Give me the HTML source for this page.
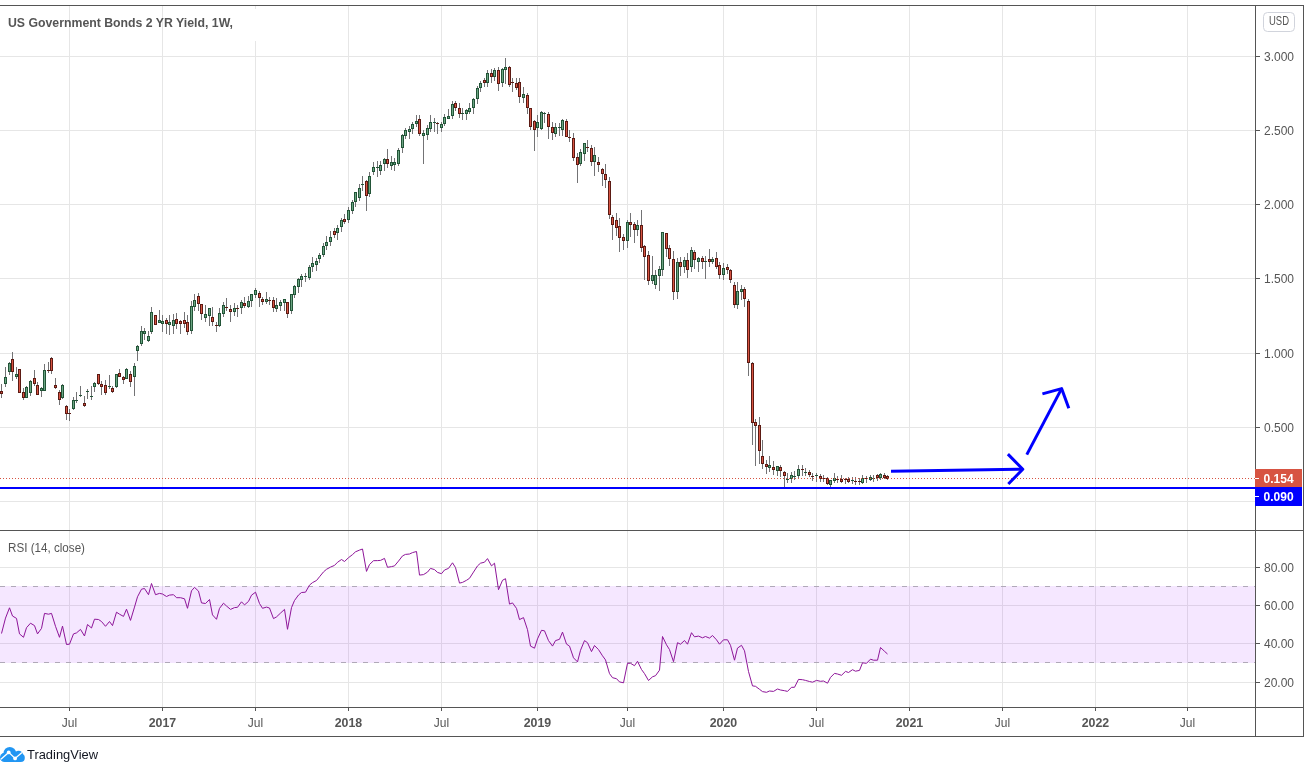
<!DOCTYPE html>
<html lang="en"><head><meta charset="utf-8"><title>US Government Bonds 2 YR Yield</title>
<style>html,body{margin:0;padding:0;background:#fff}body{width:1310px;height:773px;overflow:hidden;position:relative}svg{position:absolute;left:0;top:0;display:block;will-change:transform}text{font-family:'Liberation Sans', Arial, sans-serif}</style>
</head><body>
<svg width="1310" height="773" viewBox="0 0 1310 773">
<rect width="1310" height="773" fill="#ffffff"/>
<g shape-rendering="crispEdges" fill="#e6e6e6">
<rect x="69" y="6" width="1" height="524"/>
<rect x="69" y="531" width="1" height="176"/>
<rect x="162" y="6" width="1" height="524"/>
<rect x="162" y="531" width="1" height="176"/>
<rect x="255" y="6" width="1" height="524"/>
<rect x="255" y="531" width="1" height="176"/>
<rect x="348" y="6" width="1" height="524"/>
<rect x="348" y="531" width="1" height="176"/>
<rect x="441" y="6" width="1" height="524"/>
<rect x="441" y="531" width="1" height="176"/>
<rect x="537" y="6" width="1" height="524"/>
<rect x="537" y="531" width="1" height="176"/>
<rect x="627" y="6" width="1" height="524"/>
<rect x="627" y="531" width="1" height="176"/>
<rect x="723" y="6" width="1" height="524"/>
<rect x="723" y="531" width="1" height="176"/>
<rect x="816" y="6" width="1" height="524"/>
<rect x="816" y="531" width="1" height="176"/>
<rect x="909" y="6" width="1" height="524"/>
<rect x="909" y="531" width="1" height="176"/>
<rect x="1002" y="6" width="1" height="524"/>
<rect x="1002" y="531" width="1" height="176"/>
<rect x="1095" y="6" width="1" height="524"/>
<rect x="1095" y="531" width="1" height="176"/>
<rect x="1187" y="6" width="1" height="524"/>
<rect x="1187" y="531" width="1" height="176"/>
<rect x="0" y="56" width="1255" height="1"/>
<rect x="0" y="130" width="1255" height="1"/>
<rect x="0" y="204" width="1255" height="1"/>
<rect x="0" y="278" width="1255" height="1"/>
<rect x="0" y="353" width="1255" height="1"/>
<rect x="0" y="427" width="1255" height="1"/>
<rect x="0" y="501" width="1255" height="1"/>
<rect x="0" y="567" width="1255" height="1"/>
<rect x="0" y="605" width="1255" height="1"/>
<rect x="0" y="643" width="1255" height="1"/>
<rect x="0" y="682" width="1255" height="1"/>
</g>
<rect x="236" y="9" width="21" height="32" fill="#ffffff" shape-rendering="crispEdges"/>
<rect x="0" y="586" width="1255" height="77" fill="#9915ff" fill-opacity="0.1" shape-rendering="crispEdges"/>
<g stroke="#b0a9b8" stroke-width="1" stroke-dasharray="5 6" shape-rendering="crispEdges">
<line x1="0" y1="586.5" x2="1255" y2="586.5"/>
<line x1="0" y1="662.5" x2="1255" y2="662.5"/>
</g>
<rect x="0" y="487" width="1255" height="2" fill="#0000ff" shape-rendering="crispEdges"/>
<g shape-rendering="crispEdges">
<path fill="#737375" d="M1 384h1v14h-1zM5 367h1v20h-1zM9 362h1v13h-1zM12 352h1v29h-1zM16 367h1v12h-1zM19 369h1v24h-1zM23 388h1v12h-1zM26 386h1v12h-1zM30 380h1v16h-1zM34 370h1v16h-1zM37 382h1v13h-1zM41 387h1v10h-1zM44 364h1v27h-1zM48 362h1v11h-1zM51 357h1v17h-1zM55 378h1v11h-1zM59 390h1v15h-1zM62 384h1v15h-1zM66 405h1v15h-1zM69 409h1v12h-1zM73 397h1v13h-1zM76 392h1v11h-1zM80 386h1v11h-1zM84 396h1v11h-1zM87 389h1v10h-1zM91 386h1v14h-1zM94 382h1v10h-1zM98 374h1v11h-1zM101 381h1v14h-1zM105 380h1v15h-1zM109 375h1v14h-1zM112 386h1v7h-1zM116 374h1v14h-1zM119 369h1v8h-1zM123 376h1v8h-1zM126 368h1v11h-1zM130 371h1v16h-1zM134 363h1v33h-1zM137 345h1v16h-1zM141 326h1v20h-1zM144 328h1v12h-1zM148 331h1v11h-1zM151 307h1v27h-1zM155 315h1v10h-1zM159 310h1v13h-1zM162 315h1v17h-1zM166 318h1v16h-1zM169 315h1v20h-1zM173 314h1v20h-1zM176 313h1v16h-1zM180 320h1v14h-1zM184 312h1v16h-1zM187 315h1v20h-1zM191 301h1v33h-1zM194 294h1v17h-1zM198 293h1v18h-1zM201 304h1v16h-1zM205 305h1v17h-1zM209 308h1v18h-1zM212 307h1v19h-1zM216 322h1v10h-1zM219 308h1v19h-1zM223 302h1v15h-1zM226 298h1v13h-1zM230 305h1v17h-1zM234 303h1v13h-1zM237 305h1v12h-1zM241 300h1v14h-1zM244 297h1v11h-1zM248 296h1v12h-1zM251 294h1v13h-1zM255 288h1v10h-1zM259 291h1v16h-1zM262 297h1v8h-1zM266 292h1v12h-1zM269 297h1v8h-1zM273 297h1v15h-1zM276 298h1v14h-1zM280 300h1v11h-1zM284 299h1v12h-1zM287 302h1v16h-1zM291 294h1v20h-1zM294 285h1v13h-1zM298 278h1v15h-1zM301 274h1v13h-1zM305 273h1v9h-1zM309 265h1v15h-1zM312 257h1v15h-1zM316 258h1v13h-1zM319 253h1v10h-1zM323 243h1v14h-1zM326 236h1v14h-1zM330 231h1v15h-1zM334 228h1v10h-1zM337 225h1v15h-1zM341 218h1v14h-1zM344 214h1v10h-1zM348 207h1v16h-1zM352 200h1v14h-1zM355 192h1v15h-1zM359 184h1v17h-1zM362 176h1v15h-1zM366 180h1v31h-1zM369 172h1v25h-1zM373 162h1v13h-1zM377 161h1v16h-1zM380 161h1v14h-1zM384 158h1v13h-1zM387 149h1v19h-1zM391 156h1v14h-1zM394 158h1v13h-1zM398 148h1v18h-1zM402 134h1v19h-1zM405 128h1v11h-1zM409 126h1v13h-1zM412 122h1v12h-1zM416 115h1v12h-1zM419 115h1v21h-1zM423 130h1v34h-1zM427 125h1v15h-1zM430 115h1v17h-1zM434 118h1v14h-1zM437 122h1v12h-1zM441 122h1v10h-1zM444 114h1v12h-1zM448 109h1v10h-1zM452 101h1v18h-1zM455 101h1v10h-1zM459 103h1v15h-1zM462 108h1v12h-1zM466 109h1v11h-1zM469 103h1v11h-1zM473 98h1v16h-1zM477 86h1v18h-1zM480 81h1v11h-1zM484 78h1v9h-1zM487 70h1v17h-1zM491 69h1v14h-1zM494 68h1v13h-1zM498 67h1v24h-1zM502 68h1v19h-1zM505 58h1v26h-1zM509 66h1v21h-1zM512 78h1v14h-1zM516 78h1v12h-1zM519 78h1v25h-1zM523 87h1v16h-1zM527 93h1v21h-1zM530 108h1v22h-1zM534 120h1v31h-1zM537 115h1v22h-1zM541 111h1v19h-1zM544 112h1v11h-1zM548 112h1v27h-1zM552 122h1v18h-1zM555 123h1v14h-1zM559 123h1v13h-1zM562 119h1v17h-1zM566 119h1v18h-1zM569 130h1v12h-1zM573 133h1v28h-1zM577 153h1v30h-1zM580 149h1v17h-1zM584 143h1v18h-1zM587 140h1v12h-1zM591 145h1v21h-1zM594 147h1v29h-1zM598 157h1v15h-1zM602 168h1v18h-1zM605 164h1v24h-1zM609 177h1v42h-1zM612 215h1v25h-1zM616 213h1v23h-1zM619 218h1v34h-1zM623 234h1v16h-1zM627 220h1v28h-1zM630 213h1v24h-1zM634 222h1v21h-1zM637 220h1v16h-1zM641 210h1v42h-1zM644 245h1v35h-1zM648 251h1v34h-1zM652 256h1v28h-1zM655 270h1v19h-1zM659 266h1v25h-1zM662 232h1v44h-1zM666 233h1v24h-1zM669 245h1v21h-1zM673 251h1v49h-1zM677 258h1v41h-1zM680 257h1v19h-1zM684 257h1v16h-1zM687 253h1v25h-1zM691 247h1v25h-1zM694 250h1v19h-1zM698 257h1v15h-1zM702 256h1v13h-1zM705 256h1v23h-1zM709 249h1v18h-1zM712 257h1v7h-1zM716 252h1v17h-1zM719 262h1v17h-1zM723 263h1v17h-1zM727 264h1v10h-1zM730 269h1v14h-1zM734 282h1v26h-1zM737 282h1v27h-1zM741 285h1v15h-1zM744 287h1v20h-1zM748 299h1v77h-1zM752 362h1v83h-1zM755 419h1v47h-1zM759 417h1v47h-1zM762 440h1v29h-1zM766 460h1v14h-1zM769 456h1v16h-1zM773 461h1v14h-1zM777 466h1v10h-1zM780 465h1v12h-1zM784 471h1v16h-1zM787 473h1v10h-1zM791 472h1v11h-1zM794 471h1v9h-1zM798 465h1v13h-1zM802 465h1v11h-1zM805 468h1v8h-1zM809 470h1v7h-1zM812 473h1v8h-1zM816 473h1v9h-1zM820 474h1v8h-1zM823 475h1v7h-1zM827 477h1v8h-1zM830 480h1v7h-1zM834 473h1v10h-1zM837 476h1v7h-1zM841 475h1v8h-1zM845 478h1v6h-1zM848 477h1v6h-1zM852 477h1v7h-1zM855 477h1v8h-1zM859 478h1v7h-1zM862 475h1v9h-1zM866 476h1v7h-1zM870 475h1v6h-1zM873 475h1v7h-1zM877 474h1v7h-1zM880 473h1v7h-1zM884 473h1v6h-1zM887 475h1v5h-1z"/>
<path fill="#225437" d="M4 377h3v7h-3zM8 363h3v9h-3zM15 374h3v3h-3zM25 387h3v11h-3zM29 381h3v12h-3zM40 388h3v3h-3zM43 370h3v21h-3zM61 385h3v13h-3zM72 400h3v9h-3zM75 400h3v1h-3zM79 395h3v1h-3zM86 391h3v1h-3zM90 396h3v1h-3zM93 383h3v4h-3zM108 386h3v1h-3zM115 374h3v13h-3zM125 369h3v10h-3zM133 366h3v11h-3zM136 346h3v5h-3zM140 331h3v13h-3zM143 331h3v3h-3zM147 336h3v5h-3zM150 312h3v20h-3zM158 320h3v3h-3zM161 321h3v3h-3zM168 322h3v3h-3zM172 320h3v6h-3zM190 306h3v25h-3zM193 300h3v7h-3zM204 314h3v4h-3zM208 308h3v8h-3zM218 313h3v13h-3zM222 305h3v9h-3zM233 308h3v4h-3zM240 302h3v6h-3zM247 301h3v6h-3zM250 294h3v7h-3zM254 290h3v5h-3zM265 299h3v3h-3zM275 305h3v4h-3zM279 302h3v4h-3zM283 299h3v4h-3zM290 294h3v17h-3zM293 286h3v9h-3zM297 279h3v8h-3zM300 276h3v4h-3zM304 276h3v1h-3zM308 267h3v11h-3zM311 263h3v4h-3zM315 261h3v4h-3zM318 255h3v4h-3zM322 246h3v9h-3zM325 242h3v4h-3zM329 237h3v5h-3zM336 228h3v5h-3zM340 220h3v7h-3zM347 210h3v10h-3zM351 202h3v9h-3zM354 192h3v10h-3zM358 188h3v10h-3zM361 184h3v1h-3zM368 176h3v18h-3zM372 167h3v5h-3zM376 167h3v1h-3zM379 165h3v6h-3zM383 159h3v5h-3zM390 162h3v4h-3zM393 162h3v3h-3zM397 150h3v14h-3zM401 135h3v13h-3zM404 130h3v6h-3zM408 129h3v3h-3zM411 124h3v5h-3zM415 121h3v3h-3zM422 133h3v3h-3zM426 128h3v7h-3zM429 122h3v7h-3zM433 122h3v1h-3zM440 124h3v4h-3zM443 117h3v7h-3zM447 116h3v3h-3zM451 104h3v12h-3zM461 113h3v1h-3zM465 110h3v4h-3zM468 108h3v4h-3zM472 99h3v9h-3zM476 88h3v11h-3zM479 83h3v5h-3zM486 73h3v10h-3zM493 70h3v7h-3zM501 69h3v14h-3zM504 67h3v3h-3zM522 94h3v4h-3zM536 122h3v6h-3zM540 112h3v17h-3zM543 113h3v1h-3zM554 127h3v7h-3zM558 127h3v1h-3zM561 120h3v10h-3zM579 152h3v12h-3zM583 143h3v11h-3zM593 155h3v7h-3zM626 222h3v19h-3zM636 225h3v5h-3zM651 275h3v6h-3zM654 275h3v10h-3zM658 269h3v7h-3zM661 232h3v38h-3zM676 262h3v30h-3zM683 260h3v7h-3zM690 250h3v17h-3zM697 258h3v4h-3zM704 261h3v1h-3zM711 259h3v3h-3zM722 268h3v7h-3zM736 291h3v14h-3zM740 289h3v3h-3zM768 465h3v3h-3zM776 466h3v5h-3zM786 479h3v1h-3zM790 475h3v4h-3zM793 476h3v1h-3zM797 469h3v7h-3zM804 472h3v1h-3zM815 475h3v1h-3zM829 480h3v5h-3zM833 478h3v3h-3zM851 480h3v1h-3zM861 478h3v5h-3zM869 477h3v3h-3zM872 478h3v1h-3zM879 474h3v4h-3z"/>
<path fill="#5b1a13" d="M0 391h3v3h-3zM11 359h3v13h-3zM18 369h3v24h-3zM22 392h3v6h-3zM33 378h3v6h-3zM36 385h3v10h-3zM47 370h3v1h-3zM50 358h3v13h-3zM54 385h3v3h-3zM58 392h3v8h-3zM65 406h3v8h-3zM68 413h3v1h-3zM83 403h3v3h-3zM97 374h3v10h-3zM100 384h3v3h-3zM104 385h3v8h-3zM111 388h3v4h-3zM118 373h3v4h-3zM122 377h3v3h-3zM129 374h3v8h-3zM154 315h3v10h-3zM165 320h3v4h-3zM175 319h3v5h-3zM179 321h3v3h-3zM183 320h3v4h-3zM186 322h3v10h-3zM197 296h3v8h-3zM200 304h3v10h-3zM211 317h3v5h-3zM215 325h3v1h-3zM225 307h3v1h-3zM229 309h3v3h-3zM236 308h3v1h-3zM243 303h3v3h-3zM258 293h3v5h-3zM261 299h3v3h-3zM268 300h3v1h-3zM272 300h3v8h-3zM286 302h3v12h-3zM333 231h3v4h-3zM343 219h3v3h-3zM365 181h3v15h-3zM386 159h3v5h-3zM418 119h3v15h-3zM436 123h3v1h-3zM454 103h3v5h-3zM458 108h3v6h-3zM483 80h3v3h-3zM490 73h3v4h-3zM497 70h3v14h-3zM508 67h3v18h-3zM511 82h3v1h-3zM515 83h3v5h-3zM518 82h3v15h-3zM526 95h3v13h-3zM529 108h3v19h-3zM533 121h3v9h-3zM547 114h3v13h-3zM551 127h3v6h-3zM565 121h3v16h-3zM568 137h3v1h-3zM572 138h3v20h-3zM576 157h3v8h-3zM586 147h3v1h-3zM590 148h3v14h-3zM597 162h3v3h-3zM601 169h3v5h-3zM604 174h3v6h-3zM608 181h3v34h-3zM611 217h3v8h-3zM615 220h3v8h-3zM618 226h3v12h-3zM622 237h3v4h-3zM629 222h3v3h-3zM633 224h3v6h-3zM640 225h3v23h-3zM643 246h3v11h-3zM647 255h3v26h-3zM665 233h3v16h-3zM668 248h3v11h-3zM672 259h3v33h-3zM679 262h3v5h-3zM686 260h3v10h-3zM693 252h3v8h-3zM701 258h3v4h-3zM708 259h3v3h-3zM715 258h3v9h-3zM718 265h3v10h-3zM726 267h3v3h-3zM729 270h3v10h-3zM733 285h3v20h-3zM743 289h3v10h-3zM747 301h3v62h-3zM751 363h3v60h-3zM754 422h3v4h-3zM758 425h3v26h-3zM761 456h3v8h-3zM765 464h3v3h-3zM772 467h3v3h-3zM779 467h3v4h-3zM783 472h3v4h-3zM801 469h3v1h-3zM808 472h3v3h-3zM811 476h3v1h-3zM819 476h3v3h-3zM822 478h3v1h-3zM826 478h3v6h-3zM836 479h3v1h-3zM840 479h3v3h-3zM844 479h3v1h-3zM847 479h3v3h-3zM854 481h3v1h-3zM858 481h3v1h-3zM865 478h3v1h-3zM876 475h3v3h-3zM883 475h3v3h-3zM886 476h3v3h-3z"/>
<path fill="#6ba583" d="M5 378h1v5h-1zM9 364h1v7h-1zM16 375h1v1h-1zM26 388h1v9h-1zM30 382h1v10h-1zM41 389h1v1h-1zM44 371h1v19h-1zM62 386h1v11h-1zM73 401h1v7h-1zM94 384h1v2h-1zM116 375h1v11h-1zM126 370h1v8h-1zM134 367h1v9h-1zM137 347h1v3h-1zM141 332h1v11h-1zM144 332h1v1h-1zM148 337h1v3h-1zM151 313h1v18h-1zM159 321h1v1h-1zM162 322h1v1h-1zM169 323h1v1h-1zM173 321h1v4h-1zM191 307h1v23h-1zM194 301h1v5h-1zM205 315h1v2h-1zM209 309h1v6h-1zM219 314h1v11h-1zM223 306h1v7h-1zM234 309h1v2h-1zM241 303h1v4h-1zM248 302h1v4h-1zM251 295h1v5h-1zM255 291h1v3h-1zM266 300h1v1h-1zM276 306h1v2h-1zM280 303h1v2h-1zM284 300h1v2h-1zM291 295h1v15h-1zM294 287h1v7h-1zM298 280h1v6h-1zM301 277h1v2h-1zM309 268h1v9h-1zM312 264h1v2h-1zM316 262h1v2h-1zM319 256h1v2h-1zM323 247h1v7h-1zM326 243h1v2h-1zM330 238h1v3h-1zM337 229h1v3h-1zM341 221h1v5h-1zM348 211h1v8h-1zM352 203h1v7h-1zM355 193h1v8h-1zM359 189h1v8h-1zM369 177h1v16h-1zM373 168h1v3h-1zM380 166h1v4h-1zM384 160h1v3h-1zM391 163h1v2h-1zM394 163h1v1h-1zM398 151h1v12h-1zM402 136h1v11h-1zM405 131h1v4h-1zM409 130h1v1h-1zM412 125h1v3h-1zM416 122h1v1h-1zM423 134h1v1h-1zM427 129h1v5h-1zM430 123h1v5h-1zM441 125h1v2h-1zM444 118h1v5h-1zM448 117h1v1h-1zM452 105h1v10h-1zM466 111h1v2h-1zM469 109h1v2h-1zM473 100h1v7h-1zM477 89h1v9h-1zM480 84h1v3h-1zM487 74h1v8h-1zM494 71h1v5h-1zM502 70h1v12h-1zM505 68h1v1h-1zM523 95h1v2h-1zM537 123h1v4h-1zM541 113h1v15h-1zM555 128h1v5h-1zM562 121h1v8h-1zM580 153h1v10h-1zM584 144h1v9h-1zM594 156h1v5h-1zM627 223h1v17h-1zM637 226h1v3h-1zM652 276h1v4h-1zM655 276h1v8h-1zM659 270h1v5h-1zM662 233h1v36h-1zM677 263h1v28h-1zM684 261h1v5h-1zM691 251h1v15h-1zM698 259h1v2h-1zM712 260h1v1h-1zM723 269h1v5h-1zM737 292h1v12h-1zM741 290h1v1h-1zM769 466h1v1h-1zM777 467h1v3h-1zM791 476h1v2h-1zM798 470h1v5h-1zM830 481h1v3h-1zM834 479h1v1h-1zM862 479h1v3h-1zM870 478h1v1h-1zM880 475h1v2h-1z"/>
<path fill="#d75442" d="M1 392h1v1h-1zM12 360h1v11h-1zM19 370h1v22h-1zM23 393h1v4h-1zM34 379h1v4h-1zM37 386h1v8h-1zM51 359h1v11h-1zM55 386h1v1h-1zM59 393h1v6h-1zM66 407h1v6h-1zM84 404h1v1h-1zM98 375h1v8h-1zM101 385h1v1h-1zM105 386h1v6h-1zM112 389h1v2h-1zM119 374h1v2h-1zM123 378h1v1h-1zM130 375h1v6h-1zM155 316h1v8h-1zM166 321h1v2h-1zM176 320h1v3h-1zM180 322h1v1h-1zM184 321h1v2h-1zM187 323h1v8h-1zM198 297h1v6h-1zM201 305h1v8h-1zM212 318h1v3h-1zM230 310h1v1h-1zM244 304h1v1h-1zM259 294h1v3h-1zM262 300h1v1h-1zM273 301h1v6h-1zM287 303h1v10h-1zM334 232h1v2h-1zM344 220h1v1h-1zM366 182h1v13h-1zM387 160h1v3h-1zM419 120h1v13h-1zM455 104h1v3h-1zM459 109h1v4h-1zM484 81h1v1h-1zM491 74h1v2h-1zM498 71h1v12h-1zM509 68h1v16h-1zM516 84h1v3h-1zM519 83h1v13h-1zM527 96h1v11h-1zM530 109h1v17h-1zM534 122h1v7h-1zM548 115h1v11h-1zM552 128h1v4h-1zM566 122h1v14h-1zM573 139h1v18h-1zM577 158h1v6h-1zM591 149h1v12h-1zM598 163h1v1h-1zM602 170h1v3h-1zM605 175h1v4h-1zM609 182h1v32h-1zM612 218h1v6h-1zM616 221h1v6h-1zM619 227h1v10h-1zM623 238h1v2h-1zM630 223h1v1h-1zM634 225h1v4h-1zM641 226h1v21h-1zM644 247h1v9h-1zM648 256h1v24h-1zM666 234h1v14h-1zM669 249h1v9h-1zM673 260h1v31h-1zM680 263h1v3h-1zM687 261h1v8h-1zM694 253h1v6h-1zM702 259h1v2h-1zM709 260h1v1h-1zM716 259h1v7h-1zM719 266h1v8h-1zM727 268h1v1h-1zM730 271h1v8h-1zM734 286h1v18h-1zM744 290h1v8h-1zM748 302h1v60h-1zM752 364h1v58h-1zM755 423h1v2h-1zM759 426h1v24h-1zM762 457h1v6h-1zM766 465h1v1h-1zM773 468h1v1h-1zM780 468h1v2h-1zM784 473h1v2h-1zM809 473h1v1h-1zM820 477h1v1h-1zM827 479h1v4h-1zM841 480h1v1h-1zM848 480h1v1h-1zM877 476h1v1h-1zM884 476h1v1h-1zM887 477h1v1h-1z"/>
</g>
<line x1="0" y1="478.5" x2="1255" y2="478.5" stroke="#d75442" stroke-width="1" stroke-dasharray="1 2" shape-rendering="crispEdges"/>
<polyline fill="none" stroke="#8e1599" stroke-width="1" stroke-linejoin="round" points="1.5,633.5 5.5,618.1 9.5,607.8 12.5,616.0 16.5,618.4 19.5,633.9 23.5,637.3 26.5,627.7 30.5,623.2 34.5,625.6 37.5,633.9 41.5,628.4 44.5,613.4 48.5,614.2 51.5,613.4 55.5,626.3 59.5,637.3 62.5,626.1 66.5,644.5 69.5,644.2 73.5,633.9 76.5,632.9 80.5,629.4 84.5,636.0 87.5,624.5 91.5,628.0 94.5,619.2 98.5,619.5 101.5,621.5 105.5,626.3 109.5,621.5 112.5,625.6 116.5,612.2 119.5,614.2 123.5,616.4 126.5,609.2 130.5,620.4 134.5,607.1 137.5,596.8 141.5,589.2 144.5,588.5 148.5,594.7 151.5,583.5 155.5,594.7 159.5,593.4 162.5,594.0 166.5,596.5 169.5,595.1 173.5,594.7 176.5,597.7 180.5,597.7 184.5,598.8 187.5,608.3 191.5,590.8 194.5,587.4 198.5,591.1 201.5,602.9 205.5,603.5 209.5,599.5 212.5,614.9 216.5,619.3 219.5,608.4 223.5,603.2 226.5,606.0 230.5,609.4 234.5,607.6 237.5,607.3 241.5,601.8 244.5,604.9 248.5,601.4 251.5,595.2 255.5,592.2 259.5,603.5 262.5,608.3 266.5,607.1 269.5,608.0 273.5,618.6 276.5,616.9 280.5,613.1 284.5,609.4 287.5,629.3 291.5,607.6 294.5,600.5 298.5,595.0 301.5,592.5 305.5,592.2 309.5,585.1 312.5,582.6 316.5,580.5 319.5,576.8 323.5,571.9 326.5,569.3 330.5,567.1 334.5,565.4 337.5,562.3 341.5,559.5 344.5,561.5 348.5,557.7 352.5,554.6 355.5,551.8 359.5,550.1 362.5,549.0 366.5,571.4 369.5,564.5 373.5,560.7 377.5,560.6 380.5,560.4 384.5,558.4 387.5,567.3 391.5,566.6 394.5,565.9 398.5,561.1 402.5,555.9 405.5,554.4 409.5,554.0 412.5,552.6 416.5,551.5 419.5,575.1 423.5,574.6 427.5,572.1 430.5,568.4 434.5,569.6 437.5,572.4 441.5,573.7 444.5,570.0 448.5,568.4 452.5,562.8 455.5,567.6 459.5,583.1 462.5,582.4 466.5,580.3 469.5,578.3 473.5,572.1 477.5,565.9 480.5,563.2 484.5,562.2 487.5,558.6 491.5,565.9 494.5,563.2 498.5,589.7 502.5,580.3 505.5,578.7 509.5,604.1 512.5,602.9 516.5,608.4 519.5,619.6 523.5,617.6 527.5,629.7 530.5,646.1 534.5,648.2 537.5,638.9 541.5,630.3 544.5,630.8 548.5,640.6 552.5,646.1 555.5,640.6 559.5,639.3 562.5,632.1 566.5,644.1 569.5,646.1 573.5,657.8 577.5,661.9 580.5,650.3 584.5,640.6 587.5,642.7 591.5,651.6 594.5,645.5 598.5,649.6 602.5,655.8 605.5,659.9 609.5,673.6 612.5,677.7 616.5,678.7 619.5,681.9 623.5,682.8 627.5,663.3 630.5,663.3 634.5,665.7 637.5,661.3 641.5,669.5 644.5,673.6 648.5,680.5 652.5,676.8 655.5,675.7 659.5,670.2 662.5,636.5 666.5,644.8 669.5,649.6 673.5,661.7 677.5,642.7 680.5,644.2 684.5,640.5 687.5,644.2 691.5,632.7 694.5,636.8 698.5,636.1 702.5,637.8 705.5,636.5 709.5,638.1 712.5,635.5 716.5,639.8 719.5,644.2 723.5,639.8 727.5,639.8 730.5,645.3 734.5,660.2 737.5,648.1 741.5,645.3 744.5,650.8 748.5,671.5 752.5,685.9 755.5,686.3 759.5,689.3 762.5,691.6 766.5,692.3 769.5,691.0 773.5,691.4 777.5,689.0 780.5,690.0 784.5,690.7 787.5,691.4 791.5,687.3 794.5,687.3 798.5,679.4 802.5,679.7 805.5,680.4 809.5,681.5 812.5,682.2 816.5,680.4 820.5,681.3 823.5,681.0 827.5,683.2 830.5,677.4 834.5,673.4 837.5,674.0 841.5,675.3 845.5,671.4 848.5,672.5 852.5,669.7 855.5,671.2 859.5,670.4 862.5,662.8 866.5,663.3 870.5,659.2 873.5,660.2 877.5,660.2 880.5,647.5 884.5,651.3 887.5,654.0"/>
<g fill="none" stroke="#0000ff" stroke-width="3" stroke-linecap="butt" stroke-linejoin="round">
<path d="M891 471.2L1022.8 469.2"/>
<path d="M1007.9 454.1L1022.8 469.2L1008.3 484"/>
<path d="M1026.8 454.6L1061.6 388.6"/>
<path d="M1042.4 393.9L1061.6 388.6L1068.8 408.2"/>
</g>
<g shape-rendering="crispEdges" fill="#555555">
<rect x="0" y="5" width="1304" height="1"/>
<rect x="0" y="530" width="1304" height="1"/>
<rect x="0" y="707" width="1304" height="1"/>
<rect x="0" y="736" width="1304" height="1"/>
<rect x="1255" y="5" width="1" height="732"/>
<rect x="1303" y="5" width="1" height="732"/>
<rect x="1256" y="56" width="4" height="1"/>
<rect x="1256" y="130" width="4" height="1"/>
<rect x="1256" y="204" width="4" height="1"/>
<rect x="1256" y="278" width="4" height="1"/>
<rect x="1256" y="353" width="4" height="1"/>
<rect x="1256" y="427" width="4" height="1"/>
<rect x="1256" y="567" width="4" height="1"/>
<rect x="1256" y="605" width="4" height="1"/>
<rect x="1256" y="643" width="4" height="1"/>
<rect x="1256" y="682" width="4" height="1"/>
<rect x="69" y="708" width="1" height="3"/>
<rect x="162" y="708" width="1" height="3"/>
<rect x="255" y="708" width="1" height="3"/>
<rect x="348" y="708" width="1" height="3"/>
<rect x="441" y="708" width="1" height="3"/>
<rect x="537" y="708" width="1" height="3"/>
<rect x="627" y="708" width="1" height="3"/>
<rect x="723" y="708" width="1" height="3"/>
<rect x="816" y="708" width="1" height="3"/>
<rect x="909" y="708" width="1" height="3"/>
<rect x="1002" y="708" width="1" height="3"/>
<rect x="1095" y="708" width="1" height="3"/>
<rect x="1187" y="708" width="1" height="3"/>
</g>
<g font-size="12" fill="#555555">
<text x="1264" y="61">3.000</text>
<text x="1264" y="135">2.500</text>
<text x="1264" y="209">2.000</text>
<text x="1264" y="283">1.500</text>
<text x="1264" y="358">1.000</text>
<text x="1264" y="432">0.500</text>
<text x="1264" y="572">80.00</text>
<text x="1264" y="610">60.00</text>
<text x="1264" y="648">40.00</text>
<text x="1264" y="687">20.00</text>
</g>
<g shape-rendering="crispEdges">
<rect x="1255" y="469" width="47" height="18" fill="#d75442"/>
<rect x="1255" y="487" width="47" height="19" fill="#0000ff"/>
<rect x="1255" y="478" width="4" height="1" fill="#ffffff"/>
<rect x="1255" y="496" width="4" height="1" fill="#ffffff"/>
</g>
<g font-size="12" font-weight="bold" fill="#ffffff">
<text x="1263.6" y="483">0.154</text>
<text x="1263.6" y="501">0.090</text>
</g>
<rect x="1263.5" y="12.5" width="31" height="19" rx="4" ry="4" fill="#ffffff" stroke="#d1d4dc" stroke-width="1"/>
<text x="1279" y="25" font-size="12" fill="#555555" text-anchor="middle" textLength="20" lengthAdjust="spacingAndGlyphs">USD</text>
<g font-size="12" fill="#555555" text-anchor="middle">
<text x="69.5" y="727">Jul</text>
<text x="162.5" y="727" font-weight="bold" textLength="27.5" lengthAdjust="spacingAndGlyphs">2017</text>
<text x="255.5" y="727">Jul</text>
<text x="348.5" y="727" font-weight="bold" textLength="27.5" lengthAdjust="spacingAndGlyphs">2018</text>
<text x="441.5" y="727">Jul</text>
<text x="537.5" y="727" font-weight="bold" textLength="27.5" lengthAdjust="spacingAndGlyphs">2019</text>
<text x="627.5" y="727">Jul</text>
<text x="723.5" y="727" font-weight="bold" textLength="27.5" lengthAdjust="spacingAndGlyphs">2020</text>
<text x="816.5" y="727">Jul</text>
<text x="909.5" y="727" font-weight="bold" textLength="27.5" lengthAdjust="spacingAndGlyphs">2021</text>
<text x="1002.5" y="727">Jul</text>
<text x="1095.5" y="727" font-weight="bold" textLength="27.5" lengthAdjust="spacingAndGlyphs">2022</text>
<text x="1187.5" y="727">Jul</text>
</g>
<text x="8" y="27" font-size="12" font-weight="bold" fill="#555555" textLength="225" lengthAdjust="spacingAndGlyphs">US Government Bonds 2 YR Yield, 1W,</text>
<text x="8" y="552" font-size="12" fill="#555555" textLength="77" lengthAdjust="spacingAndGlyphs">RSI (14, close)</text>
<g transform="translate(0,747)">
<g fill="#2196f3"><circle cx="9.8" cy="6.3" r="6.3"/><circle cx="18.6" cy="8.2" r="4.5"/><circle cx="20.7" cy="10.9" r="4.1"/><circle cx="4.6" cy="10.4" r="4.6"/><rect x="4.6" y="8" width="16.1" height="7"/></g>
<path fill="none" stroke="#ffffff" stroke-width="1.3" d="M0.9 12.3L8.7 5.4L15.1 11.4L22 5.4"/>
<circle cx="8.7" cy="5.4" r="1.9" fill="#ffffff"/><circle cx="15.1" cy="11.4" r="1.9" fill="#ffffff"/>
</g>
<text x="27" y="759" font-size="13" fill="#131722" textLength="71" lengthAdjust="spacingAndGlyphs">TradingView</text>
</svg>
</body></html>
